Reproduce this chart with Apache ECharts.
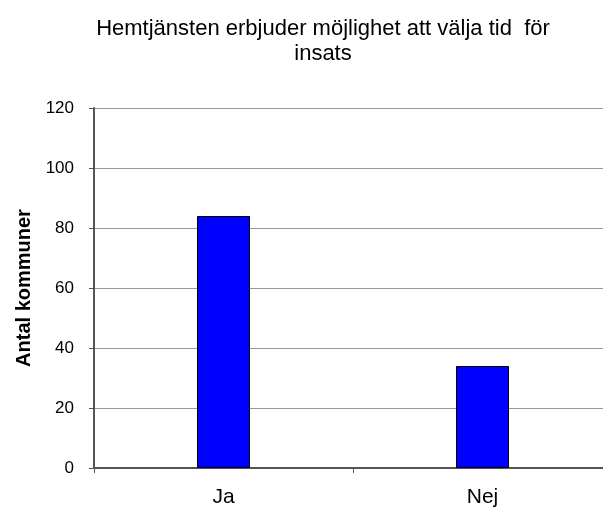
<!DOCTYPE html>
<html lang="sv" style="height: 100%">
<head>
  <meta charset="utf-8">
</head>
<body style="height: 100%; margin: 0; background: #fff">
  <div id="container" style="width: 603px; height: 511px"></div>

  <script type="text/javascript" src="https://cdn.jsdelivr.net/npm/echarts@6/dist/echarts.min.js"></script>

  <script type="text/javascript">
    // data
    const categories = ['Ja', 'Nej'];
    const antalKommuner = [84, 34];
    const yTicks = { min: 0, max: 120, interval: 20 };

    var dom = document.getElementById('container');
    var myChart = echarts.init(dom, null, { renderer: 'canvas' });

    var option = {
      animation: false,
      title: {
        text: 'Hemtjänsten erbjuder möjlighet att välja tid  för\ninsats',
        left: 318,
        textAlign: 'center',
        top: 11,
        textStyle: {
          fontFamily: 'Liberation Sans',
          fontWeight: 'normal',
          fontSize: 22,
          lineHeight: 25,
          color: '#000'
        }
      },
      grid: {
        left: 94,
        width: 518,
        top: 108,
        bottom: 43,
        outerBoundsMode: 'none'
      },
      xAxis: {
        type: 'category',
        data: categories,
        axisLine: { lineStyle: { color: '#555', width: 2 } },
        axisTick: { show: true, length: 5, lineStyle: { color: '#555' } },
        axisLabel: {
          margin: 19,
          fontFamily: 'Liberation Sans',
          fontSize: 21,
          color: '#000'
        }
      },
      yAxis: {
        type: 'value',
        min: yTicks.min,
        max: yTicks.max,
        interval: yTicks.interval,
        name: 'Antal kommuner',
        nameLocation: 'middle',
        nameGap: 59,
        nameTextStyle: {
          fontFamily: 'Liberation Sans',
          fontWeight: 'bold',
          fontSize: 20,
          color: '#000'
        },
        axisLine: { show: true, lineStyle: { color: '#555', width: 2 } },
        axisTick: { show: true, length: 5, lineStyle: { color: '#555' } },
        splitLine: { lineStyle: { color: '#999', width: 1 } },
        axisLabel: {
          margin: 20,
          fontFamily: 'Liberation Sans',
          fontSize: 17,
          color: '#000'
        }
      },
      series: [
        {
          type: 'bar',
          data: antalKommuner,
          barWidth: 53,
          itemStyle: {
            color: '#0000ff',
            borderColor: '#000',
            borderWidth: 1
          }
        }
      ]
    };

    myChart.setOption(option);
    window.addEventListener('resize', myChart.resize);
  </script>
</body>
</html>
